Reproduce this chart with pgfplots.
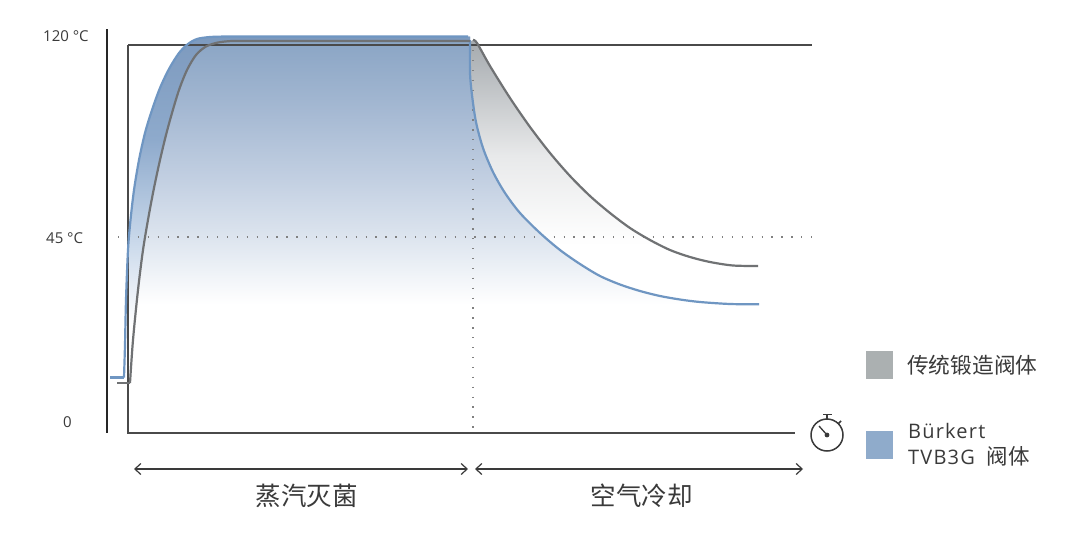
\documentclass[border=0pt]{standalone}
\usepackage{fontspec}
\usepackage{pgfplots}
\pgfplotsset{compat=1.18}
\usetikzlibrary{arrows.meta}
\setmainfont{Open Sans}
\newfontfamily\cjk{Noto Sans CJK SC}
\newfontfamily\spaced[LetterSpace=6]{Open Sans}

\definecolor{bluecurve}{HTML}{6F96C2}
\definecolor{graycurve}{HTML}{707274}
\definecolor{frameline}{HTML}{4A4A4A}
\definecolor{txt}{HTML}{3A3A3A}
\definecolor{swgray}{HTML}{ABB0B1}
\definecolor{swblue}{HTML}{8FABCB}
\definecolor{ba}{HTML}{DCE4EE}
\definecolor{bb}{HTML}{C3D0E2}
\definecolor{bc}{HTML}{A0B5D0}
\definecolor{bd}{HTML}{89A4C4}
\definecolor{sa}{HTML}{C6D6E9}
\definecolor{sb}{HTML}{8EAACC}
\definecolor{sc}{HTML}{7D9ABE}
\definecolor{ga}{HTML}{E8E9EA}
\definecolor{gb}{HTML}{A5AAAE}

% stops: 25bp = bottom of the filled shape, 75bp = its top
\pgfdeclareverticalshading{bluefade}{100bp}{
  color(0bp)=(white); color(36bp)=(white);
  color(46bp)=(ba);
  color(54bp)=(bb);
  color(66bp)=(bc);
  color(75bp)=(bd);
  color(100bp)=(bd)}
\pgfdeclareverticalshading{sliverfade}{100bp}{
  color(0bp)=(white); color(33bp)=(white);
  color(46bp)=(sa);
  color(60bp)=(sb);
  color(75bp)=(sc);
  color(100bp)=(sc)}
\pgfdeclareverticalshading{grayfade}{100bp}{
  color(0bp)=(white); color(36bp)=(white);
  color(53bp)=(ga);
  color(75bp)=(gb);
  color(100bp)=(gb)}

\begin{document}
\begin{tikzpicture}
\begin{axis}[
  scale only axis,
  width=1080pt,
  height=536pt,
  xmin=0, xmax=1080,
  ymin=0, ymax=536,
  y dir=reverse,
  hide axis,
  clip=false,
]
\fill[white] (axis cs:0,0) rectangle (axis cs:1080,536);

% blue area under the blue curve
\addplot[draw=none, shading=bluefade] coordinates {
  (125,380) (125,345) (126,300) (128,250) (130.5,220) (134,190) (139,160)
  (145,133) (152,110) (160,88) (169,69) (179,53) (188,44) (197,39) (210,37)
  (228,36.5) (470,36.5) (470,73) (472,95) (476,122) (483,148) (493,172)
  (505,193) (520,213) (540,233) (560,250) (580,264) (600,276) (620,284.5)
  (640,291) (660,296) (680,299.5) (700,302) (730,304) (759,304.3) (759,380)
} -- cycle;
% darker sliver between the two rising curves
\addplot[draw=none, shading=sliverfade] coordinates {
  (125,380) (125,345) (126,300) (128,250) (130.5,220) (134,190) (139,160)
  (145,133) (152,110) (160,88) (169,69) (179,53) (188,44) (197,39) (210,37)
  (228,36.5) (470,36.5) (470,41) (232,41) (218,42.5) (206,46.5) (196,55)
  (187,70) (179,90) (172,113) (166,135) (160,160) (154,188) (148.5,217)
  (143,250) (138,290) (133,340) (130,380)
} -- cycle;
% grey area between the two falling curves
\addplot[draw=none, shading=grayfade] coordinates {
  (473,40) (477,43) (490,66) (510,98) (530,127) (550,153) (570,176) (590,196)
  (610,213) (630,228) (650,240) (670,250) (690,257) (710,262) (710,303)
  (700,302) (680,299.5) (660,296) (640,291) (620,284.5) (600,276) (580,264)
  (560,250) (540,233) (520,213) (505,193) (493,172) (483,148) (476,122)
  (472,95) (470,73) (470,42)
} -- cycle;

% frame
\addplot[frameline, line width=1.5pt] coordinates {(128,45) (812,45)};
\addplot[frameline, line width=1.5pt] coordinates {(128,45) (128,433) (795,433)};
\addplot[black!85, line width=2.4pt] coordinates {(107,29) (107,433)};
% dotted guides
\addplot[black!50, line width=1.3pt, dash pattern=on 1.3pt off 8.6pt] coordinates {(118,237) (812,237)};
\addplot[black!50, line width=1.3pt, dash pattern=on 1.3pt off 8.6pt] coordinates {(473,50) (473,433)};

% blue curve
\addplot[bluecurve, line width=2.2pt] coordinates {(110,377.5) (124,377.5)};
\addplot[bluecurve, line width=2.2pt, smooth] coordinates {
  (124,377.5) (125,345) (126,300) (128,250) (130.5,220) (134,190) (139,160)
  (145,133) (152,110) (160,88) (169,69) (179,53) (188,44) (197,39) (210,37)
  (228,36.5) (250,36.5) (468,36.5)};
\addplot[bluecurve, line width=2.2pt, smooth] coordinates {
  (470,40) (470,73) (472,95) (476,122) (483,148) (493,172) (505,193) (520,213)
  (540,233) (560,250) (580,264) (600,276) (620,284.5) (640,291) (660,296)
  (680,299.5) (700,302) (730,304) (759,304.3)};
% grey curve
\addplot[graycurve, line width=2.2pt] coordinates {(117,383) (130,383)};
\addplot[graycurve, line width=2.2pt, smooth] coordinates {
  (130,383) (133,340) (138,290) (143,250) (148.5,217) (154,188) (160,160) (166,135)
  (172,113) (179,90) (187,70) (196,55) (206,46.5) (218,42.5) (232,41) (250,41) (470,41)};
\addplot[graycurve, line width=2.2pt, smooth] coordinates {
  (473,40) (477,43) (490,66) (510,98) (530,127) (550,153) (570,176) (590,196)
  (610,213) (630,228) (650,240) (670,250) (690,257) (710,262) (733,265.5) (758,266)};

% time spans
\draw[{Straight Barb[length=6pt,width=11pt]}-{Straight Barb[length=6pt,width=11pt]}, txt, line width=1.2pt]
  (axis cs:134,469) -- (axis cs:468,469);
\draw[{Straight Barb[length=6pt,width=11pt]}-{Straight Barb[length=6pt,width=11pt]}, txt, line width=1.2pt]
  (axis cs:475,469) -- (axis cs:803,469);
\node[txt, font=\cjk\fontsize{25.5}{28}\selectfont] at (axis cs:306.5,496) {蒸汽灭菌};
\node[txt, font=\cjk\fontsize{25.5}{28}\selectfont] at (axis cs:641.5,496) {空气冷却};

% temperature labels
\node[txt, anchor=west, inner sep=0pt, font=\fontsize{15}{17}\selectfont] at (axis cs:43,36) {120 °C};
\node[txt, anchor=west, inner sep=0pt, font=\fontsize{15}{17}\selectfont] at (axis cs:46,238) {45 °C};
\node[txt, anchor=west, inner sep=0pt, font=\fontsize{15}{17}\selectfont] at (axis cs:63,422) {0};

% stopwatch
\draw[txt, line width=1.5pt] (axis cs:827,435) circle[radius=16pt];
\draw[txt, line width=1.5pt] (axis cs:827,419) -- (axis cs:827,415);
\draw[txt, line width=1.7pt] (axis cs:823,414.5) -- (axis cs:832,414.5);
\draw[txt, line width=1.7pt] (axis cs:838.5,423.5) -- (axis cs:841,421);
\draw[txt, line width=1.3pt] (axis cs:827,435) -- (axis cs:819,426);
\fill[txt] (axis cs:827,435) circle[radius=2.4pt];

% legend
\fill[swgray] (axis cs:866,351) rectangle (axis cs:893,379);
\fill[swblue] (axis cs:866,431) rectangle (axis cs:893,459);
\node[txt, anchor=west, inner sep=0pt, font=\cjk\fontsize{21.7}{24}\selectfont] at (axis cs:907,365) {传统锻造阀体};
\node[txt, anchor=west, inner sep=0pt, font=\spaced\fontsize{20}{23}\selectfont] at (axis cs:908,431) {Bürkert};
\node[txt, anchor=west, inner sep=0pt, font=\spaced\fontsize{20}{23}\selectfont] at (axis cs:908,456) {TVB3G\hspace{12pt}{\cjk\fontsize{21.5}{23}\selectfont 阀体}};
\end{axis}
\end{tikzpicture}
\end{document}
